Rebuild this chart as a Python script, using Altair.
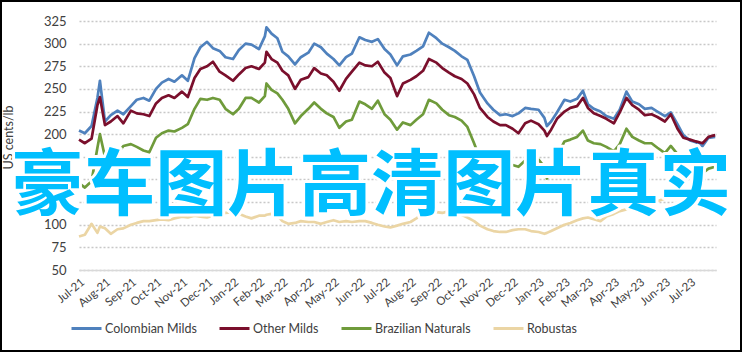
import altair as alt
import pandas as pd

# ---- categories (sample dates, roughly weekly) ----
dates = [
    "2021-07-01", "2021-07-08", "2021-07-16", "2021-07-23", "2021-07-26",
    "2021-08-01", "2021-08-08", "2021-08-16", "2021-08-23",
    "2021-09-01", "2021-09-08", "2021-09-16", "2021-09-23",
    "2021-10-01", "2021-10-08", "2021-10-16", "2021-10-23",
    "2021-11-01", "2021-11-08", "2021-11-16", "2021-11-23",
    "2021-12-01", "2021-12-08", "2021-12-16", "2021-12-23",
    "2022-01-01", "2022-01-08", "2022-01-16", "2022-01-23",
    "2022-02-01", "2022-02-08", "2022-02-10", "2022-02-16", "2022-02-23",
    "2022-03-01", "2022-03-08", "2022-03-16", "2022-03-23",
    "2022-04-01", "2022-04-08", "2022-04-16", "2022-04-23",
    "2022-05-01", "2022-05-08", "2022-05-16", "2022-05-23",
    "2022-06-01", "2022-06-08", "2022-06-16", "2022-06-23",
    "2022-07-01", "2022-07-08", "2022-07-16", "2022-07-23",
    "2022-08-01", "2022-08-08", "2022-08-16", "2022-08-23",
    "2022-09-01", "2022-09-08", "2022-09-16", "2022-09-23",
    "2022-10-01", "2022-10-08", "2022-10-16", "2022-10-23",
    "2022-11-01", "2022-11-08", "2022-11-16", "2022-11-23",
    "2022-12-01", "2022-12-08", "2022-12-16", "2022-12-23",
    "2023-01-01", "2023-01-08", "2023-01-11", "2023-01-16", "2023-01-23",
    "2023-02-01", "2023-02-08", "2023-02-16", "2023-02-23",
    "2023-03-01", "2023-03-08", "2023-03-16", "2023-03-23",
    "2023-04-01", "2023-04-08", "2023-04-16", "2023-04-23",
    "2023-05-01", "2023-05-08", "2023-05-16", "2023-05-23",
    "2023-06-01", "2023-06-08", "2023-06-16", "2023-06-23",
    "2023-07-01", "2023-07-08", "2023-07-16", "2023-07-23", "2023-07-31",
]

# ---- series values (US cents/lb) ----
colombian_milds = [
    204, 201, 209, 240, 259,
    214, 221, 226, 222,
    231, 238, 240, 237,
    250, 257, 261, 258,
    265, 259, 284, 296,
    302, 295, 292, 285,
    283, 293, 300, 299,
    294, 308, 318, 311, 306,
    291, 286, 277, 285,
    290, 300, 296, 289,
    283, 276, 285, 289,
    307, 304, 302, 305,
    294, 288, 276, 286,
    288, 292, 297, 312,
    306, 300, 296, 292,
    286, 282, 264, 246,
    234, 227, 221, 222,
    220, 223, 229, 228,
    227, 218, 209, 214, 224,
    238, 236, 239, 248,
    233, 228, 225, 220,
    217, 227, 247, 236,
    233, 228, 229, 225,
    220, 224, 211, 199,
    193, 191, 187, 196, 197,
]

other_milds = [
    194, 190, 195, 232, 241,
    210, 214, 220, 212,
    226, 223, 222, 220,
    234, 240, 243, 240,
    247, 241, 262, 272,
    275, 280, 269, 265,
    259, 266, 273, 275,
    272, 279, 291, 283, 279,
    270, 265, 250, 260,
    263, 273, 267, 265,
    258, 248, 261, 269,
    279, 276, 275, 280,
    268, 262, 242, 256,
    260, 264, 270, 283,
    279, 273, 268, 264,
    261, 256, 244, 229,
    219, 214, 210, 210,
    206, 201, 212, 215,
    211, 204, 198, 205, 217,
    225, 229, 231, 240,
    229, 223, 220, 217,
    212, 224, 240, 232,
    227, 221, 222, 219,
    214, 222, 206, 196,
    194, 192, 190, 197, 199,
]

brazilian_naturals = [
    146, 141, 148, 185, 200,
    175, 169, 178, 187,
    189, 186, 182, 180,
    196, 201, 204, 203,
    207, 211, 228, 239,
    238, 240, 238, 228,
    222, 228, 240, 240,
    235, 242, 256, 249, 245,
    238, 228, 212, 220,
    228, 235, 228, 223,
    219, 207, 214, 216,
    236, 233, 228, 237,
    222, 216, 205, 213,
    210, 216, 222, 238,
    234, 227, 221, 219,
    215, 208, 190, 173,
    163, 160, 162, 164,
    166, 164, 171, 167,
    172, 164, 151, 162, 176,
    192, 194, 197, 204,
    193, 190, 189, 186,
    181, 189, 206, 197,
    193, 190, 190, 185,
    179, 187, 178, 166,
    161, 158, 157, 162, 164,
]

robustas = [
    87, 89, 101, 91, 98,
    96, 90, 95, 96,
    100, 102, 104, 104,
    105, 106, 105, 107,
    109, 108, 110, 109,
    108, 110, 112, 113,
    114, 112, 109, 107,
    110, 110, 111, 112, 110,
    104, 101, 102, 104,
    103, 103, 101, 103,
    105, 103, 104, 103,
    104, 104, 102, 100,
    98, 97, 99, 101,
    103, 107, 112, 112,
    114, 113, 115, 111,
    111, 108, 104, 99,
    95, 93, 92, 92,
    94, 95, 95, 93,
    92, 90, 91, 93, 96,
    100, 102, 105, 107,
    108, 106, 104, 109,
    112, 115, 117, 119,
    121, 122, 124, 126,
    129, 131, 133, 136,
    136, 136, 134, 131, 127,
]

series_names = ["Colombian Milds", "Other Milds", "Brazilian Naturals", "Robustas"]
series_colors = ["#4F81BD", "#7A0F2C", "#6F9B3B", "#EBD5A4"]
y_ticks = [50, 75, 100, 125, 150, 175, 200, 225, 250, 275, 300, 325]
tick_months = [(2021, m) for m in range(7, 13)] + [(2022, m) for m in range(1, 13)] + [(2023, m) for m in range(1, 8)]
watermark_text = "豪车图片高清图片真实"

rows = []
for name, vals in zip(series_names, [colombian_milds, other_milds, brazilian_naturals, robustas]):
    assert len(vals) == len(dates), (name, len(vals), len(dates))
    for d, v in zip(dates, vals):
        rows.append({"date": d, "value": v, "series": name})
df = pd.DataFrame(rows)

FONT = "Lato"
W, H = 637, 249

x_scale = alt.Scale(
    type="utc",
    domain=[alt.DateTime(year=2021, month=7, date=1, utc=True),
            alt.DateTime(year=2023, month=8, date=1, utc=True)],
)
y_scale = alt.Scale(domain=[50, 325], nice=False, zero=False)

x_axis = alt.Axis(
    values=[alt.DateTime(year=y, month=m, date=1, utc=True) for y, m in tick_months],
    format="%b-%y", labelAngle=-40, labelAlign="right", labelBaseline="top",
    labelPadding=6, ticks=False, grid=False, domain=True,
    domainColor="#d9d9d9", domainWidth=1.5, title=None,
    labelFont=FONT, labelFontSize=11.5, labelColor="#404040", labelOverlap=False,
    labelFlush=False,
)
y_axis = alt.Axis(
    values=y_ticks, grid=True, gridDash=[2, 2], gridColor="#c8c8c8", gridWidth=1.3,
    domain=False, ticks=False, labelPadding=13, labelOverlap=False, labelFlush=False,
    labelFont=FONT, labelFontSize=13, labelColor="#404040",
    title="US cents/lb", titleFont=FONT, titleFontSize=12.5, titleFontWeight="normal",
    titleColor="#404040", titleX=-71, titleY=116, titleAngle=-90,
    titleAlign="center", titleBaseline="middle",
)

X = alt.X("date:T", scale=x_scale, axis=x_axis)
Y = alt.Y("value:Q", scale=y_scale, axis=y_axis)

lines = alt.Chart(df).mark_line(strokeWidth=2.7, strokeJoin="round").encode(
    x=X,
    y=Y,
    color=alt.Color(
        "series:N",
        scale=alt.Scale(domain=series_names, range=series_colors),
        sort=series_names,
        legend=alt.Legend(
            title=None, orient="none", legendX=-9, legendY=291,
            direction="horizontal", columns=4,
            symbolType="stroke", symbolSize=900, symbolStrokeWidth=3,
            labelFont=FONT, labelFontSize=12.5, labelColor="#404040",
            columnPadding=16, labelOffset=2,
        ),
    ),
)

wm_df = pd.DataFrame({"date": ["2022-06-15"], "value": [141.5], "label": [watermark_text]})
wm_outline = alt.Chart(wm_df).mark_text(
    font="Noto Sans CJK SC", fontSize=72, fontWeight="bold", align="center", baseline="middle",
    fill="white", stroke="white", strokeWidth=6, strokeJoin="round",
).encode(x=X, y=Y, text="label:N")
wm_text = alt.Chart(wm_df).mark_text(
    font="Noto Sans CJK SC", fontSize=72, fontWeight="bold", align="center", baseline="middle",
    fill="#00BFFF",
).encode(x=X, y=Y, text="label:N")

frame = alt.Chart(pd.DataFrame({"a": [0]})).mark_rect(
    fillOpacity=0, stroke="black", strokeWidth=2
).encode(x=alt.value(-78), x2=alt.value(662), y=alt.value(-20), y2=alt.value(330))

chart = alt.layer(lines, wm_outline, wm_text, frame).properties(
    width=W, height=H,
    padding={"left": 79, "top": 21, "right": 27, "bottom": 82},
    autosize=alt.AutoSizeParams(type="none"),
    background="white",
).configure_view(strokeWidth=0)

chart.save("out.html", embed_options={"renderer": "svg", "actions": False})
